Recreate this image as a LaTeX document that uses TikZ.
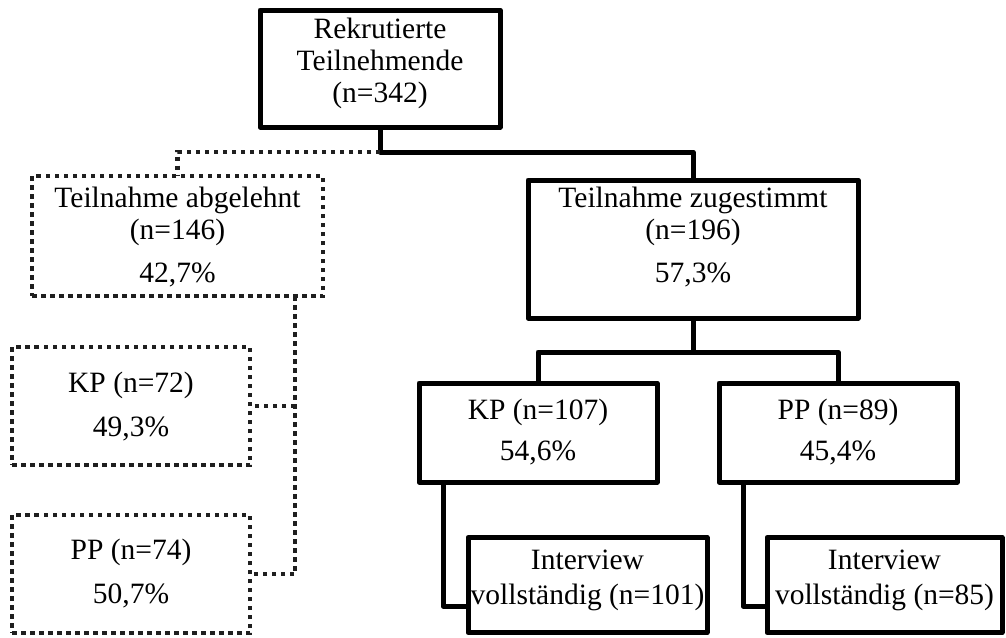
\documentclass[tikz,border=0pt]{standalone}
\usepackage{fontspec}
\setmainfont{Liberation Serif}
\begin{document}
\begin{tikzpicture}[x=1pt,y=-1pt,
  sbox/.style={draw=black, line width=5pt, line join=round, inner sep=0pt, outer sep=0pt},
  dbox/.style={draw=black!88, line width=4.5pt, dash pattern=on 4.5pt off 4.5pt, inner sep=0pt, outer sep=0pt},
  txt/.style={align=center, font=\fontsize{29.5}{32}\selectfont, inner sep=0pt},
  sline/.style={line width=5pt, line join=round},
  dline/.style={draw=black!88, line width=4.5pt, dash pattern=on 4.5pt off 4.5pt}]
\useasboundingbox (0,0) rectangle (1006,637);
% boxes
\node[sbox, minimum width=240pt, minimum height=117pt] (top) at (380,68.5) {};
\node[dbox, minimum width=291pt, minimum height=120pt] (ab) at (177.5,236) {};
\node[sbox, minimum width=330pt, minimum height=138pt] (zu) at (693,249) {};
\node[sbox, minimum width=238pt, minimum height=99pt] (kp) at (538,432.5) {};
\node[sbox, minimum width=238pt, minimum height=99pt] (pp) at (838,432.5) {};
\node[sbox, minimum width=239pt, minimum height=95pt] (iva) at (587.5,585) {};
\node[sbox, minimum width=235pt, minimum height=95pt] (ivb) at (884.5,585) {};
\node[dbox, minimum width=238pt, minimum height=118pt] (lkp) at (131,406) {};
\node[dbox, minimum width=238pt, minimum height=118pt] (lpp) at (131,574) {};
% texts
\node[txt] (topt) at (380,63) {Rekrutierte\\Teilnehmende\\(n=342)};
\node[txt] (abt) at (177.5,237) {Teilnahme abgelehnt\\(n=146)\\[11pt]42,7\%};
\node[txt] (zut) at (693,237.5) {Teilnahme zugestimmt\\(n=196)\\[11pt]57,3\%};
\node[txt] (kpt) at (538,432.5) {KP (n=107)\\[9pt]54,6\%};
\node[txt] (ppt) at (838,432.5) {PP (n=89)\\[9pt]45,4\%};
\node[txt] (ivat) at (587.5,580) {Interview\\[3pt]vollständig (n=101)};
\node[txt] (ivbt) at (884.5,580) {Interview\\[3pt]vollständig (n=85)};
\node[txt] (lkpt) at (131,407) {KP (n=72)\\[12pt]49,3\%};
\node[txt] (lppt) at (131,573.5) {PP (n=74)\\[12pt]50,7\%};
% junction coordinates
\coordinate (j1) at (380,152);
\coordinate (j2) at (693,352);
\coordinate (j3) at (295,296);
% connectors
\draw[sline] (top.south) -- (j1) -| (zu.north);
\draw[dline] (j1) -| (ab.north);
\draw[sline] (zu.south) -- (j2);
\draw[sline] (kp.north) |- (j2) -| (pp.north);
\draw[sline] (443,482) -- (443,606) -- (iva.west |- 0,606);
\draw[sline] (743,482) -- (743,606) -- (ivb.west |- 0,606);
\draw[dline] (j3) |- (lpp.east);
\draw[dline] (j3 |- lkp.east) -- (lkp.east);
\end{tikzpicture}
\end{document}
